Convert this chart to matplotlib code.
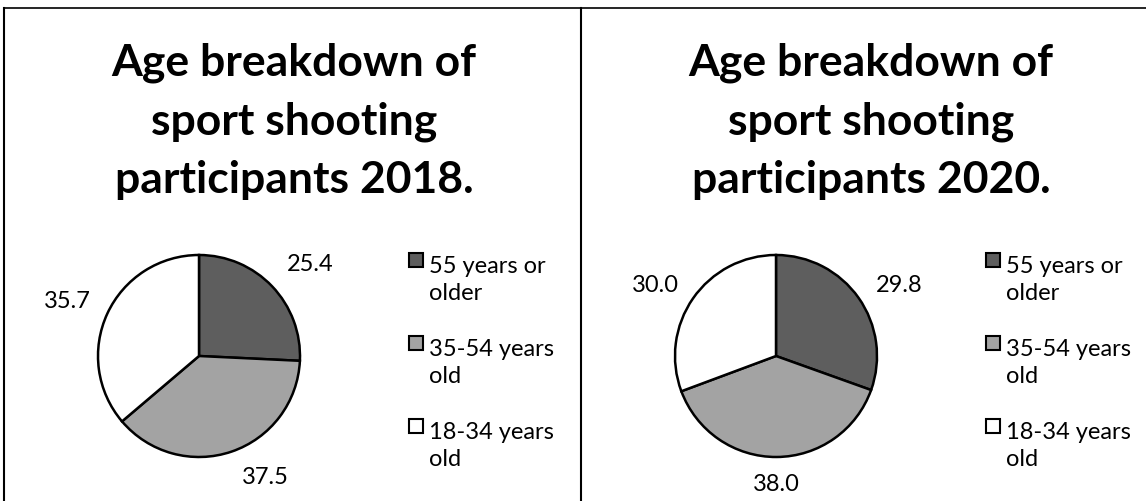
import numpy as np
import matplotlib
matplotlib.use("Agg")
import matplotlib.pyplot as plt
from matplotlib.patches import Rectangle

W, H = 1146, 502

# chart data
categories = ["55 years or\nolder", "35-54 years\nold", "18-34 years\nold"]
values_2018 = [25.4, 37.5, 35.7]
values_2020 = [29.8, 38.0, 30.0]
titles = ["Age breakdown of\nsport shooting\nparticipants 2018.",
          "Age breakdown of\nsport shooting\nparticipants 2020."]

colors = ["#5e5e5e", "#a3a3a3", "#ffffff"]
# data-label distance from centre (in radii) and angle nudge (deg), per panel
label_dist = [[1.43, 1.36, 1.41], [1.41, 1.26, 1.39]]
label_turn = [[-4, 10, 2], [-5, 0, 4]]

plt.rcParams["font.family"] = ["Lato", "DejaVu Sans"]

fig = plt.figure(figsize=(W / 100, H / 100), dpi=100)

# overlay in pixel units (top-left origin) for titles, legend and frame
bg = fig.add_axes([0, 0, 1, 1])
bg.set_xlim(0, W)
bg.set_ylim(H, 0)
bg.axis("off")


def draw_panel(off, values, title, dists, turns):
    bg.text(off + 294, 193, title, ha="center", va="baseline",
            fontsize=32, fontweight="bold", linespacing=1.55)

    cx, cy, r = off + 199, 357, 101
    ax = fig.add_axes([(cx - r) / W, 1 - (cy + r) / H, 2 * r / W, 2 * r / H])
    wedges, _ = ax.pie(values, colors=colors, startangle=90, counterclock=False,
                       radius=1, wedgeprops=dict(edgecolor="black", linewidth=1.8))
    ax.set_xlim(-1.0, 1.0)
    ax.set_ylim(-1.0, 1.0)
    ax.axis("off")
    for w, v, d, t in zip(wedges, values, dists, turns):
        ang = np.deg2rad((w.theta1 + w.theta2) / 2 + t)
        ax.text(d * np.cos(ang), d * np.sin(ang), f"{v:.1f}", ha="center",
                va="center", fontsize=17, clip_on=False)

    # legend drawn by hand so the swatch sits beside the first line
    lx = off + 3
    for i, (lab, c) in enumerate(zip(categories, colors)):
        y = 260.5 + i * 83
        bg.add_patch(Rectangle((lx + 406, y - 7), 14, 14, facecolor=c,
                               edgecolor="black", linewidth=1.5))
        bg.text(lx + 426, y + 40, lab, ha="left", va="baseline", fontsize=17,
                linespacing=1.37)


draw_panel(0, values_2018, titles[0], label_dist[0], label_turn[0])
draw_panel(577, values_2020, titles[1], label_dist[1], label_turn[1])

# frame lines around the panels
bg.plot([4, 4], [9, H], color="black", lw=1.5)
bg.plot([581, 581], [9, H], color="black", lw=1.5)
bg.plot([4, W], [9, 9], color="black", lw=1.2)

fig.savefig("out.png", dpi=100)
